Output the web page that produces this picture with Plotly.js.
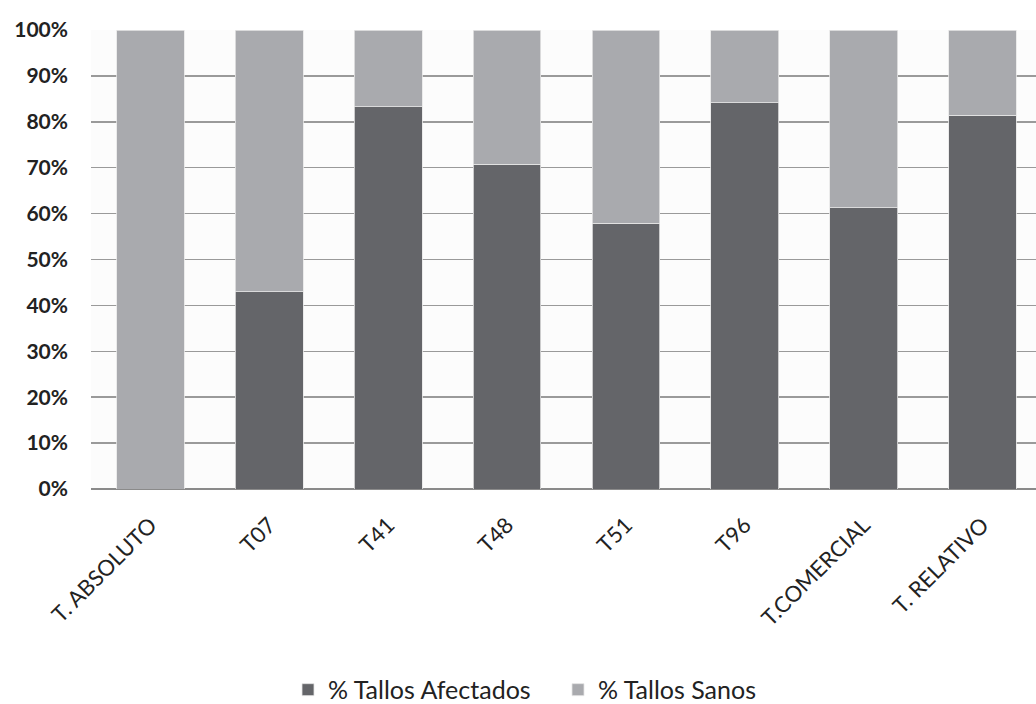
<!DOCTYPE html>
<html>
<head>
<meta charset="utf-8">
<script src="https://cdn.plot.ly/plotly-3.0.1.min.js"></script>
<style>
html,body{margin:0;padding:0;background:#ffffff;overflow:hidden;}
#chart{width:1036px;height:704px;}
</style>
</head>
<body>
<div id="chart"></div>
<script>
const categories = ["T. ABSOLUTO", "T07", "T41", "T48", "T51", "T96", "T.COMERCIAL", "T. RELATIVO"];
const afectados = [0, 43, 83.3, 70.7, 57.9, 84.1, 61.3, 81.4];
const sanos = [100, 57, 16.7, 29.3, 42.1, 15.9, 38.7, 18.6];
const yTicks = [0, 10, 20, 30, 40, 50, 60, 70, 80, 90, 100];
const yTickLabels = ["0%", "10%", "20%", "30%", "40%", "50%", "60%", "70%", "80%", "90%", "100%"];

const fontFam = "Lato, 'Open Sans', sans-serif";

const traces = [
  {
    type: "bar", name: "% Tallos Afectados", x: categories, y: afectados,
    marker: {color: "#646569", line: {color: "#e6e6e6", width: 0.8}},
    hoverinfo: "x+y"
  },
  {
    type: "bar", name: "% Tallos Sanos", x: categories, y: sanos,
    marker: {color: "#a9aaae", line: {color: "#e6e6e6", width: 0.8}},
    hoverinfo: "x+y"
  }
];

const layout = {
  width: 1036, height: 704,
  barmode: "stack",
  bargap: 0.43,
  paper_bgcolor: "#ffffff",
  plot_bgcolor: "#fcfcfc",
  margin: {l: 91, r: 0, t: 30, b: 215},
  font: {family: fontFam, color: "#222", size: 18},
  xaxis: {
    range: [-0.5, 7.45],
    tickangle: -45,
    tickfont: {family: fontFam, size: 22, color: "#222"},
    ticklabelstandoff: 18,
    showgrid: false, zeroline: false,
    showline: false, ticks: "",
    automargin: false,
    fixedrange: true
  },
  yaxis: {
    range: [0, 100],
    tickvals: yTicks, ticktext: yTickLabels,
    tickfont: {family: fontFam, size: 21, color: "#222", weight: "bold"},
    ticklabelstandoff: 22,
    showgrid: true, gridcolor: "#9a9a9a", gridwidth: 1.5,
    zeroline: true, zerolinecolor: "#8a8a8a", zerolinewidth: 2,
    showline: false, ticks: "", ticklen: 0,
    automargin: false,
    fixedrange: true
  },
  legend: {
    orientation: "h",
    xref: "container", x: 0.278, xanchor: "left",
    yref: "container", y: 0.02, yanchor: "middle",
    font: {family: fontFam, size: 25, color: "#222"},
    entrywidth: 225, entrywidthmode: "pixels",
    traceorder: "normal", itemwidth: 30, bgcolor: "rgba(0,0,0,0)"
  },
  showlegend: true
};

Plotly.newPlot("chart", traces, layout, {displayModeBar: false, staticPlot: true});
</script>
</body>
</html>
